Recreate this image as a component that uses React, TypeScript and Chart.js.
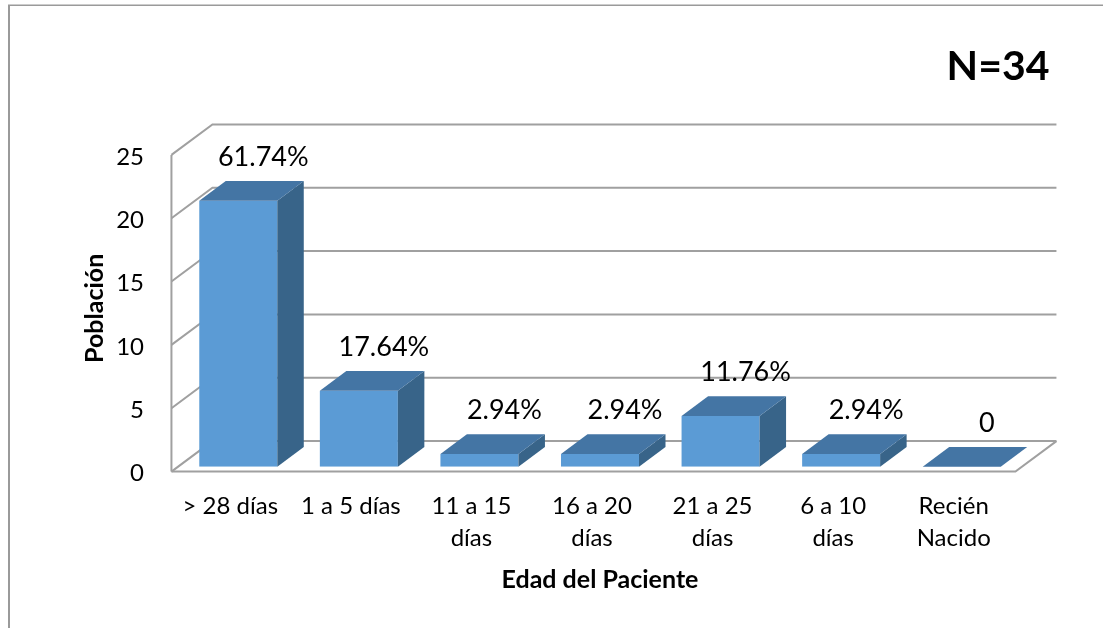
import React, { useEffect, useRef } from "react";
import { Chart, registerables } from "chart.js";

Chart.register(...registerables);

// ---- data ----
const categories: string[][] = [
  ["> 28 días"],
  ["1 a 5 días"],
  ["11 a 15", "días"],
  ["16 a 20", "días"],
  ["21 a 25", "días"],
  ["6 a 10", "días"],
  ["Recién", "Nacido"],
];
const poblacion: number[] = [21, 6, 1, 1, 4, 1, 0];
const valueLabels: string[] = ["61.74%", "17.64%", "2.94%", "2.94%", "11.76%", "2.94%", "0"];
const yMin = 0;
const yMax = 25;
const yStep = 5;
const totalLabel = "N=34";
const xTitle = "Edad del Paciente";
const yTitle = "Población";

// ---- style ----
const FONT = "Lato, 'Open Sans', sans-serif";
const FRONT = "#5B9BD5";
const TOP = "#4475A4";
const SIDE = "#386489";
const GRID = "#A0A0A0";
const DEPTH_X = 41;
const DEPTH_Y = 30.5;
const BAR_FRONT = 0.16;
const BAR_BACK = 0.806;

const framePlugin = {
  id: "frame",
  beforeDraw(chart: any) {
    const { ctx, width, height } = chart;
    ctx.save();
    ctx.fillStyle = "#ffffff";
    ctx.fillRect(0, 0, width, height);
    ctx.strokeStyle = "#9A9A9A";
    ctx.lineWidth = 1.5;
    ctx.beginPath();
    ctx.moveTo(8, 5.25);
    ctx.lineTo(1103, 5.25);
    ctx.stroke();
    ctx.lineWidth = 2;
    ctx.beginPath();
    ctx.moveTo(9, 5);
    ctx.lineTo(9, height);
    ctx.stroke();
    ctx.restore();
  },
};

const wallsPlugin = {
  id: "walls3d",
  beforeDatasetsDraw(chart: any) {
    const { ctx, chartArea: a, scales } = chart;
    const y = scales.y;
    const fdx = -BAR_FRONT * DEPTH_X;
    const fdy = BAR_FRONT * DEPTH_Y;
    const bdx = (1 - BAR_FRONT) * DEPTH_X;
    const bdy = -(1 - BAR_FRONT) * DEPTH_Y;
    const L = a.left;
    const R = a.right;
    const base = y.getPixelForValue(yMin);
    const top = y.getPixelForValue(yMax);
    ctx.save();
    ctx.strokeStyle = GRID;
    ctx.lineWidth = 2;
    ctx.lineJoin = "miter";
    ctx.beginPath();
    ctx.moveTo(L + fdx, base + fdy);
    ctx.lineTo(L + fdx, top + fdy);
    ctx.stroke();
    y.ticks.forEach((t: any) => {
      const py = y.getPixelForValue(t.value);
      ctx.beginPath();
      ctx.moveTo(L + fdx, py + fdy);
      ctx.lineTo(L + bdx, py + bdy);
      ctx.lineTo(R + bdx, py + bdy);
      ctx.stroke();
    });
    ctx.beginPath();
    ctx.moveTo(L + fdx, base + fdy);
    ctx.lineTo(R + fdx, base + fdy);
    ctx.lineTo(R + bdx, base + bdy);
    ctx.stroke();
    ctx.restore();
  },
};

const barsPlugin = {
  id: "bars3d",
  afterDatasetsDraw(chart: any) {
    const { ctx } = chart;
    const meta = chart.getDatasetMeta(0);
    const ddx = (BAR_BACK - BAR_FRONT) * DEPTH_X;
    const ddy = -(BAR_BACK - BAR_FRONT) * DEPTH_Y;
    ctx.save();
    meta.data.forEach((bar: any, i: number) => {
      const { x: cx, y: top, base, width } = bar.getProps(["x", "y", "base", "width"], true);
      const l = cx - width / 2;
      const r = cx + width / 2;
      ctx.fillStyle = SIDE;
      ctx.beginPath();
      ctx.moveTo(r, top);
      ctx.lineTo(r + ddx, top + ddy);
      ctx.lineTo(r + ddx, base + ddy);
      ctx.lineTo(r, base);
      ctx.closePath();
      ctx.fill();
      ctx.fillStyle = TOP;
      ctx.beginPath();
      ctx.moveTo(l, top);
      ctx.lineTo(r, top);
      ctx.lineTo(r + ddx, top + ddy);
      ctx.lineTo(l + ddx, top + ddy);
      ctx.closePath();
      ctx.fill();
      ctx.fillStyle = "#000000";
      ctx.font = `27px ${FONT}`;
      ctx.textAlign = "center";
      ctx.textBaseline = "middle";
      ctx.fillText(valueLabels[i], cx + 25, top + ddy - 24);
    });
    ctx.fillStyle = "#000000";
    ctx.font = `bold 41px ${FONT}`;
    ctx.textAlign = "center";
    ctx.textBaseline = "middle";
    ctx.fillText(totalLabel, 998, 67);
    ctx.restore();
  },
};

export default function App() {
  const ref = useRef<HTMLCanvasElement | null>(null);
  useEffect(() => {
    if (!ref.current) return;
    const chart = new Chart(ref.current, {
      type: "bar",
      data: {
        labels: categories,
        datasets: [
          {
            data: poblacion,
            backgroundColor: FRONT,
            borderWidth: 0,
            barPercentage: 0.647,
            categoryPercentage: 1,
          },
        ],
      },
      options: {
        responsive: false,
        animation: false,
        devicePixelRatio: 1,
        layout: { padding: { top: 150, right: 89, left: 0, bottom: 0 } },
        plugins: {
          legend: { display: false },
          tooltip: { enabled: false },
          title: { display: false },
        },
        scales: {
          x: {
            grid: { display: false, drawTicks: false },
            border: { display: false },
            ticks: {
              color: "#000000",
              font: { family: FONT, size: 24, lineHeight: 1.36 },
              padding: 23,
              labelOffset: -8,
              maxRotation: 0,
              autoSkip: false,
            },
            title: {
              display: true,
              text: xTitle,
              color: "#000000",
              font: { family: FONT, size: 25, weight: "bold", lineHeight: 1.2 },
              padding: { top: 0, bottom: 33 },
            },
            afterFit: (s: any) => {
              s.height = 161.3;
            },
          },
          y: {
            min: yMin,
            max: yMax,
            grid: { display: false, drawTicks: false },
            border: { display: false },
            ticks: {
              stepSize: yStep,
              color: "#000000",
              font: { family: FONT, size: 24 },
              padding: 34,
              labelOffset: 7,
            },
            title: {
              display: true,
              text: yTitle,
              color: "#000000",
              font: { family: FONT, size: 25, weight: "bold", lineHeight: 1.2 },
              padding: { top: 80, bottom: 0 },
            },
            afterFit: (s: any) => {
              s.width = 178;
            },
          },
        },
      },
      plugins: [framePlugin, wallsPlugin, barsPlugin],
    });
    return () => chart.destroy();
  }, []);
  return (
    <div style={{ position: "absolute", left: 0, top: 0, width: 1111, height: 628, background: "#fff" }}>
      <canvas ref={ref} width={1111} height={628} style={{ display: "block" }} />
    </div>
  );
}
